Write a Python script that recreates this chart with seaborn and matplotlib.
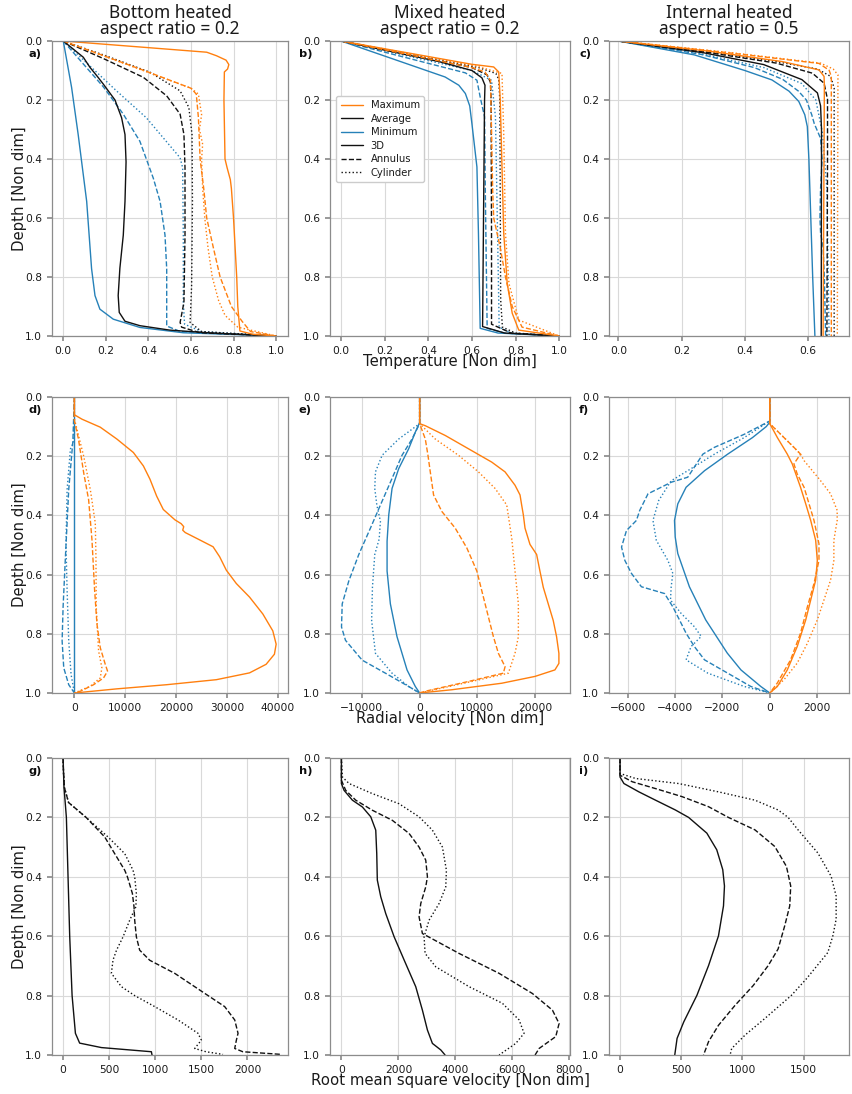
import matplotlib
matplotlib.use("Agg")
import matplotlib.pyplot as plt
from matplotlib.lines import Line2D
import seaborn as sns

# ---------------------------------------------------------------- colours
ORANGE = "#ff7f0e"
BLUE = "#2681b8"
BLACK = "#111111"

# ================================================================ panel a
# Temperature, bottom heated (x = temperature, d = depth)
a_max_3d_d = [0, .038, .05, .065, .08, .095, .105, .2, .4, .43, .47, .5, .6, .8, .9, .983, .994, 1.0]
a_max_3d_x = [0, .674, .72, .765, .778, .772, .757, .755, .76, .77, .785, .79, .80, .815, .82, .83, .89, 1.0]
a_max_ann_d = [0, .05, .10, .16, .18, .26, .4, .5, .6, .7, .8, .9, .95, .985, 1.0]
a_max_ann_x = [0, .19, .38, .60, .625, .635, .643, .66, .674, .705, .737, .79, .84, .88, 1.0]
a_max_cyl_d = [0, .16, .18, .25, .30, .35, .4, .5, .6, .7, .8, .88, .93, .97, 1.0]
a_max_cyl_x = [0, .60, .635, .65, .64, .655, .65, .655, .665, .68, .70, .73, .76, .82, 1.0]
a_avg_3d_d = [0, .055, .089, .12, .146, .2, .26, .317, .41, .544, .658, .77, .863, .92, .95, .965, .98, .99, 1.0]
a_avg_3d_x = [0, .094, .125, .16, .188, .243, .274, .29, .295, .29, .282, .266, .258, .263, .29, .36, .5, .7, 1.0]
a_avg_ann_d = [0, .06, .123, .186, .248, .317, .43, .658, .886, .954, .97, .989, 1.0]
a_avg_ann_x = [0, .19, .376, .486, .549, .567, .572, .572, .567, .549, .556, .643, 1.0]
a_avg_cyl_d = [0, .05, .106, .169, .225, .317, .544, .83, .954, .985, 1.0]
a_avg_cyl_x = [0, .2, .408, .549, .59, .605, .607, .603, .596, .65, 1.0]
a_min_3d_d = [0, .157, .317, .544, .772, .863, .909, .943, .971, .989, 1.0]
a_min_3d_x = [0, .039, .07, .11, .133, .149, .172, .235, .36, .564, 1.0]
a_min_ann_d = [0, .157, .248, .34, .465, .544, .658, .772, .966, .985, 1.0]
a_min_ann_x = [0, .19, .282, .36, .423, .455, .478, .486, .486, .55, 1.0]
a_min_cyl_d = [0, .169, .26, .396, .43, .658, .886, .96, .985, 1.0]
a_min_cyl_x = [0, .25, .39, .549, .561, .564, .564, .57, .65, 1.0]

# ================================================================ panel b
# Temperature, mixed heated
b_max_3d_d = [0, .079, .088, .105, .2, .427, .652, .822, .923, .98, 1.0]
b_max_3d_x = [0, .60, .70, .723, .73, .738, .746, .762, .785, .815, 1.0]
b_max_ann_d = [0, .09, .105, .133, .3, .5, .6, .7, .8, .9, .97, 1.0]
b_max_ann_x = [0, .6, .66, .685, .69, .695, .70, .73, .754, .785, .83, 1.0]
b_max_cyl_d = [0, .085, .11, .314, .652, .822, .946, 1.0]
b_max_cyl_x = [0, .62, .738, .746, .754, .77, .815, 1.0]
b_avg_3d_d = [0, .07, .1, .125, .15, .2, .54, .968, .99, 1.0]
b_avg_3d_x = [0, .45, .6, .646, .66, .658, .654, .649, .75, 1.0]
b_avg_ann_d = [0, .09, .115, .14, .2, .65, .96, .99, 1.0]
b_avg_ann_x = [0, .6, .67, .685, .688, .69, .69, .78, 1.0]
b_avg_cyl_d = [0, .09, .11, .13, .2, .878, .97, .99, 1.0]
b_avg_cyl_x = [0, .63, .71, .723, .728, .732, .74, .8, 1.0]
b_min_3d_d = [0, .122, .15, .178, .22, .28, .427, .652, .974, .99, 1.0]
b_min_3d_x = [0, .477, .54, .57, .59, .60, .623, .63, .638, .72, 1.0]
b_min_ann_d = [0, .108, .133, .19, .257, .54, .974, .99, 1.0]
b_min_ann_x = [0, .57, .623, .638, .658, .662, .67, .75, 1.0]
b_min_cyl_d = [0, .1, .133, .257, .54, .878, .97, .99, 1.0]
b_min_cyl_x = [0, .60, .69, .708, .715, .723, .725, .78, 1.0]

# ================================================================ panel c
# Temperature, internally heated
c_max_3d_d = [0, .035, .07, .098, .12, .15, 1.0]
c_max_3d_x = [0, .29, .52, .635, .651, .652, .648]
c_max_ann_d = [0, .04, .076, .099, .12, 1.0]
c_max_ann_x = [0, .35, .635, .667, .674, .674]
c_max_cyl_d = [0, .04, .075, .095, .115, 1.0]
c_max_cyl_x = [0, .36, .64, .68, .695, .693]
c_avg_3d_d = [0, .04, .08, .131, .176, .22, .3, 1.0]
c_avg_3d_x = [0, .27, .46, .581, .63, .64, .643, .642]
c_avg_ann_d = [0, .04, .075, .109, .143, .198, .4, 1.0]
c_avg_ann_x = [0, .29, .50, .614, .651, .662, .662, .66]
c_avg_cyl_d = [0, .04, .07, .095, .12, .16, 1.0]
c_avg_cyl_x = [0, .3, .5, .63, .672, .683, .683]
c_min_3d_d = [0, .047, .1, .132, .17, .205, .25, .29, .4, .6, .8, 1.0]
c_min_3d_x = [0, .24, .40, .486, .54, .571, .59, .598, .603, .609, .615, .622]
c_min_ann_d = [0, .045, .09, .13, .17, .2, .25, .28, .33, .4, .5, .6, .65, .7, .8, 1.0]
c_min_ann_x = [0, .26, .43, .52, .57, .595, .612, .62, .64, .645, .64, .638, .64, .648, .652, .656]
c_min_cyl_d = [0, .045, .09, .144, .2, .312, .5, 1.0]
c_min_cyl_x = [0, .27, .46, .58, .625, .646, .66, .667]

# ================================================================ panel d
# Radial velocity, bottom heated
d_max_3d_d = [0, .06, .075, .102, .142, .1875, .233, .278, .335, .38, .415, .428, .438, .45, .458,
              .483, .506, .54, .585, .63, .676, .733, .79, .835, .869, .903, .932, .955, .972, .986, 1.0]
d_max_3d_x = [0, 0, 1500, 5090, 8350, 11600, 13570, 14870, 16180, 17480, 19770, 21000, 21500, 21300, 21800,
              24660, 27270, 28570, 29870, 31830, 34440, 37050, 39010, 39670, 39330, 37700, 34440, 27920, 18130, 8350, 0]
d_max_ann_d = [0, .08, .142, .256, .347, .483, .653, .767, .847, .903, .926, .949, .972, .994, 1.0]
d_max_ann_x = [0, 0, 800, 1830, 2800, 3460, 3980, 4440, 5090, 6070, 6520, 5740, 3780, 1170, 0]
d_max_cyl_d = [0, .074, .2, .3125, .426, .54, .71, .858, .915, .949, .977, 1.0]
d_max_cyl_x = [0, 0, 1830, 3130, 4110, 4240, 4300, 4760, 5410, 5090, 3130, 0]
d_min_3d_d = [0, 1.0]
d_min_3d_x = [0, 0]
d_min_ann_d = [0, .15, .3125, .54, .71, .824, .915, .972, 1.0]
d_min_ann_x = [0, -300, -1110, -1760, -2220, -2410, -2090, -1110, 0]
d_min_cyl_d = [0, .15, .176, .3125, .5, .653, .824, .9375, 1.0]
d_min_cyl_x = [0, -100, -780, -1430, -1650, -1430, -1110, -650, 0]

# ================================================================ panel e
# Radial velocity, mixed heated
e_max_3d_d = [0, .09, .097, .13, .175, .22, .253, .298, .331, .365, .398, .443, .498, .532, .588, .643,
              .699, .755, .81, .866, .9, .922, .944, .967, .989, 1.0]
e_max_3d_x = [0, 0, 980, 4430, 8450, 12470, 14770, 16490, 17360, 17640, 17930, 18220, 19080, 20230, 20800,
              21380, 22240, 23100, 23680, 24080, 24080, 23390, 19940, 14200, 5570, 0]
e_max_ann_d = [0, .09, .142, .197, .253, .331, .387, .443, .51, .588, .699, .81, .866, .911, .933, .961, .994, 1.0]
e_max_ann_x = [0, 0, 980, 1440, 1840, 2410, 3850, 6150, 8160, 9890, 11320, 12760, 13620, 14770, 14480, 8450, 980, 0]
e_max_cyl_d = [0, .09, .142, .197, .253, .309, .365, .476, .588, .699, .81, .866, .933, .961, 1.0]
e_max_cyl_x = [0, 0, 2700, 6720, 10170, 13050, 15060, 15920, 16490, 17070, 17070, 16490, 15340, 9020, 0]
e_min_3d_d = [0, .086, .119, .175, .242, .309, .398, .487, .588, .699, .81, .922, .978, 1.0]
e_min_3d_x = [0, 0, -750, -1900, -3620, -4770, -5340, -5630, -5630, -5060, -3910, -2180, -750, 0]
e_min_ann_d = [0, .09, .142, .197, .275, .365, .443, .532, .621, .699, .777, .822, .889, .933, .978, 1.0]
e_min_ann_x = [0, 0, -1320, -3050, -4770, -6780, -8510, -10520, -12240, -13390, -13510, -12820, -9940,
               -5920, -1900, 0]
e_min_cyl_d = [0, .09, .142, .197, .253, .309, .365, .42, .48, .532, .643, .755, .866, .933, .978, 1.0]
e_min_cyl_x = [0, 0, -3620, -6490, -7640, -7760, -7400, -6780, -7000, -7760, -8160, -8300, -7640, -4770, -1900, 0]

# ================================================================ panel f
# Radial velocity, internally heated
f_max_3d_d = [0, .09, .137, .193, .226, .305, .361, .417, .484, .552, .619, .686, .753, .843, .922, .978, 1.0]
f_max_3d_x = [0, 0, 320, 740, 950, 1300, 1520, 1730, 1940, 2010, 1940, 1730, 1520, 1160, 740, 320, 0]
f_max_ann_d = [0, .09, .126, .17, .193, .226, .26, .305, .361, .417, .496, .552, .63, .709, .798, .888, .966, 1.0]
f_max_ann_x = [0, 0, 460, 1020, 1300, 1020, 1160, 1450, 1660, 1870, 2080, 2080, 1870, 1590, 1300, 880, 320, 0]
f_max_cyl_d = [0, .09, .126, .159, .193, .215, .283, .327, .383, .417, .484, .552, .619, .686, .753, .832,
               .899, .955, 1.0]
f_max_cyl_x = [0, 0, 460, 880, 1300, 1450, 2150, 2570, 2850, 2850, 2710, 2710, 2570, 2290, 2010, 1590,
               1160, 600, 0]
f_min_3d_d = [0, .085, .1, .137, .193, .249, .305, .361, .417, .473, .529, .641, .753, .865, .922, .978, 1.0]
f_min_3d_x = [0, 0, -150, -730, -1780, -2760, -3540, -3890, -4030, -4000, -3890, -3400, -2710, -1800,
              -1220, -380, 0]
f_min_ann_d = [0, .081, .126, .17, .193, .271, .288, .327, .383, .417, .451, .507, .552, .596, .641, .664,
               .709, .753, .798, .843, .888, .933, .978, 1.0]
f_min_ann_x = [0, 0, -1080, -2340, -2830, -3470, -4170, -5150, -5500, -5640, -6060, -6270, -6130, -5850,
               -5430, -4450, -4100, -3820, -3540, -3190, -2760, -1780, -800, 0]
f_min_cyl_d = [0, .081, .137, .193, .249, .283, .35, .417, .484, .552, .596, .641, .686, .731, .776, .809,
               .843, .888, .933, .978, 1.0]
f_min_cyl_x = [0, 0, -1080, -2340, -3470, -4170, -4700, -4940, -4800, -4310, -4100, -4170, -4200, -3750,
               -3190, -2900, -3330, -3540, -2620, -1080, 0]

# ================================================================ panel g
# RMS velocity, bottom heated
g_3d_d = [0, .098, .2, .4, .6, .8, .927, .96, .975, .989, 1.0]
g_3d_x = [0, 10, 36, 54, 72, 98, 134, 180, 416, 958, 965]
g_ann_d = [0, .05, .1, .15, .2, .266, .322, .378, .4, .456, .502, .546, .602, .647, .681, .725, .77, .8,
           .837, .882, .927, .95, .978, .989, .998]
g_ann_x = [0, 5, 15, 60, 250, 452, 560, 669, 698, 752, 770, 777, 795, 831, 940, 1211, 1428, 1573,
           1753, 1862, 1898, 1880, 1862, 1950, 2368]
g_cyl_d = [0, .05, .1, .15, .2, .266, .322, .378, .4, .456, .501, .546, .602, .647, .68, .725, .77, .8,
           .837, .882, .927, .95, .978, .989, .998]
g_cyl_x = [0, 5, 15, 60, 250, 488, 669, 759, 777, 795, 790, 723, 651, 580, 542, 524, 633, 777,
           994, 1247, 1464, 1500, 1428, 1550, 1735]

# ================================================================ panel h
# RMS velocity, mixed heated
h_3d_d = [0, .086, .109, .142, .165, .198, .243, .322, .411, .467, .524, .602, .68, .77, .849, .916, .961, .983, 1.0]
h_3d_x = [0, 0, 94, 386, 737, 1030, 1205, 1240, 1260, 1380, 1556, 1850, 2200, 2608, 2842, 3018, 3193, 3487, 3637]
h_ann_d = [0, .075, .109, .142, .176, .21, .254, .3, .344, .4, .434, .49, .535, .591, .658, .725, .793,
           .849, .894, .938, .978, 1.0]
h_ann_x = [0, 0, 152, 503, 1088, 1789, 2374, 2725, 2959, 3018, 2959, 2784, 2725, 2842, 4129, 5532, 6702,
           7404, 7637, 7520, 6936, 6795]
h_cyl_d = [0, .064, .086, .12, .154, .198, .243, .3, .378, .434, .49, .546, .602, .658, .703, .77, .826,
           .882, .927, .961, 1.0]
h_cyl_x = [0, 35, 269, 1088, 2023, 2725, 3193, 3544, 3684, 3661, 3427, 3076, 2901, 2936, 3310, 4480, 5649,
           6234, 6409, 6117, 5532]

# ================================================================ panel i
# RMS velocity, internally heated
i_3d_d = [0, .064, .086, .114, .142, .175, .2, .253, .309, .376, .431, .498, .599, .699, .799, .889, .944, 1.0]
i_3d_x = [0, 0, 32, 154, 290, 452, 560, 709, 790, 839, 853, 845, 804, 723, 628, 520, 466, 447]
i_ann_d = [0, .058, .08, .103, .13, .164, .2, .242, .298, .365, .431, .498, .565, .643, .699, .766, .833,
           .9, .955, 1.0]
i_ann_x = [0, 0, 100, 290, 506, 723, 885, 1102, 1264, 1359, 1394, 1386, 1345, 1291, 1210, 1088, 939,
           804, 723, 682]
i_cyl_d = [0, .052, .069, .086, .114, .142, .175, .2, .242, .32, .398, .465, .543, .599, .655, .744, .799,
           .877, .933, .978, 1.0]
i_cyl_x = [0, 0, 127, 479, 804, 1102, 1291, 1373, 1454, 1616, 1724, 1765, 1765, 1738, 1697, 1521, 1400,
           1183, 1021, 912, 899]

# ---------------------------------------------------------------- text
col_titles = ["Bottom heated\naspect ratio = 0.2",
              "Mixed heated\naspect ratio = 0.2",
              "Internal heated\naspect ratio = 0.5"]
row_xlabels = ["Temperature [Non dim]", "Radial velocity [Non dim]",
               "Root mean square velocity [Non dim]"]
depth_label = "Depth [Non dim]"
panel_tags = ["a)", "b)", "c)", "d)", "e)", "f)", "g)", "h)", "i)"]
legend_labels = ["Maximum", "Average", "Minimum", "3D", "Annulus", "Cylinder"]

x_ticks = [
    [0, .2, .4, .6, .8, 1.0], [0, .2, .4, .6, .8, 1.0], [0, .2, .4, .6],
    [0, 10000, 20000, 30000, 40000], [-10000, 0, 10000, 20000], [-6000, -4000, -2000, 0, 2000],
    [0, 500, 1000, 1500, 2000], [0, 2000, 4000, 6000, 8000], [0, 500, 1000, 1500],
]
x_limits = [
    (-0.053, 1.056), (-0.051, 1.05), (-0.03, 0.73),
    (-4400, 42000), (-15500, 26000), (-6800, 3350),
    (-120, 2440), (-400, 8020), (-90, 1870),
]
depth_ticks = [0, .2, .4, .6, .8, 1.0]

# ---------------------------------------------------------------- style
sns.set_theme(style="whitegrid", rc={
    "axes.edgecolor": "0.55",
    "axes.linewidth": 0.9,
    "grid.color": "0.85",
    "grid.linewidth": 0.8,
    "xtick.bottom": True,
    "ytick.left": True,
    "xtick.color": "0.55",
    "ytick.color": "0.55",
    "xtick.labelcolor": "0.1",
    "ytick.labelcolor": "0.1",
    "xtick.major.size": 3.5,
    "ytick.major.size": 3.5,
    "xtick.labelsize": 7.7,
    "ytick.labelsize": 7.7,
})
plt.rcParams["font.family"] = ["DejaVu Sans"]

W, H = 852, 1094
fig = plt.figure(figsize=(W / 100, H / 100), dpi=100)

col_left = [52, 330, 609]
col_width = [236, 240, 240]
row_top = [41, 397, 758]
row_height = [295, 296, 297]
tag_x = [-0.10, -0.13, -0.125]

axes = []
for r in range(3):
    for c in range(3):
        l, w = col_left[c], col_width[c]
        t, h = row_top[r], row_height[r]
        axes.append(fig.add_axes([l / W, 1 - (t + h) / H, w / W, h / H]))


def draw(ax, x, d, color, ls):
    sns.lineplot(x=x, y=d, ax=ax, color=color, linestyle=ls, linewidth=1.0,
                 sort=False, estimator=None, legend=False)


# temperature rows: minimum, average, maximum for each geometry
temp_sets = [
    {"min": [(a_min_3d_x, a_min_3d_d), (a_min_ann_x, a_min_ann_d), (a_min_cyl_x, a_min_cyl_d)],
     "avg": [(a_avg_3d_x, a_avg_3d_d), (a_avg_ann_x, a_avg_ann_d), (a_avg_cyl_x, a_avg_cyl_d)],
     "max": [(a_max_3d_x, a_max_3d_d), (a_max_ann_x, a_max_ann_d), (a_max_cyl_x, a_max_cyl_d)]},
    {"min": [(b_min_3d_x, b_min_3d_d), (b_min_ann_x, b_min_ann_d), (b_min_cyl_x, b_min_cyl_d)],
     "avg": [(b_avg_3d_x, b_avg_3d_d), (b_avg_ann_x, b_avg_ann_d), (b_avg_cyl_x, b_avg_cyl_d)],
     "max": [(b_max_3d_x, b_max_3d_d), (b_max_ann_x, b_max_ann_d), (b_max_cyl_x, b_max_cyl_d)]},
    {"min": [(c_min_3d_x, c_min_3d_d), (c_min_ann_x, c_min_ann_d), (c_min_cyl_x, c_min_cyl_d)],
     "avg": [(c_avg_3d_x, c_avg_3d_d), (c_avg_ann_x, c_avg_ann_d), (c_avg_cyl_x, c_avg_cyl_d)],
     "max": [(c_max_3d_x, c_max_3d_d), (c_max_ann_x, c_max_ann_d), (c_max_cyl_x, c_max_cyl_d)]},
]
stat_color = {"min": BLUE, "avg": BLACK, "max": ORANGE}
geom_ls = ["-", "--", ":"]

for k, sets in enumerate(temp_sets):
    ax = axes[k]
    for stat in ["min", "avg", "max"]:
        for g, (xv, dv) in enumerate(sets[stat]):
            draw(ax, xv, dv, stat_color[stat], geom_ls[g])

vel_sets = [
    {"min": [(d_min_3d_x, d_min_3d_d), (d_min_ann_x, d_min_ann_d), (d_min_cyl_x, d_min_cyl_d)],
     "max": [(d_max_3d_x, d_max_3d_d), (d_max_ann_x, d_max_ann_d), (d_max_cyl_x, d_max_cyl_d)]},
    {"min": [(e_min_3d_x, e_min_3d_d), (e_min_ann_x, e_min_ann_d), (e_min_cyl_x, e_min_cyl_d)],
     "max": [(e_max_3d_x, e_max_3d_d), (e_max_ann_x, e_max_ann_d), (e_max_cyl_x, e_max_cyl_d)]},
    {"min": [(f_min_3d_x, f_min_3d_d), (f_min_ann_x, f_min_ann_d), (f_min_cyl_x, f_min_cyl_d)],
     "max": [(f_max_3d_x, f_max_3d_d), (f_max_ann_x, f_max_ann_d), (f_max_cyl_x, f_max_cyl_d)]},
]
for k, sets in enumerate(vel_sets):
    ax = axes[3 + k]
    for stat in ["min", "max"]:
        for g, (xv, dv) in enumerate(sets[stat]):
            draw(ax, xv, dv, stat_color[stat], geom_ls[g])

rms_sets = [
    [(g_3d_x, g_3d_d), (g_ann_x, g_ann_d), (g_cyl_x, g_cyl_d)],
    [(h_3d_x, h_3d_d), (h_ann_x, h_ann_d), (h_cyl_x, h_cyl_d)],
    [(i_3d_x, i_3d_d), (i_ann_x, i_ann_d), (i_cyl_x, i_cyl_d)],
]
for k, sets in enumerate(rms_sets):
    ax = axes[6 + k]
    for g, (xv, dv) in enumerate(sets):
        draw(ax, xv, dv, BLACK, geom_ls[g])

# ---------------------------------------------------------------- axes dressing
for n, ax in enumerate(axes):
    r, c = divmod(n, 3)
    ax.set_xlim(*x_limits[n])
    ax.set_xticks(x_ticks[n])
    ax.set_ylim(1.0, 0.0)
    ax.set_yticks(depth_ticks)
    ax.set_yticklabels([f"{v:.1f}" for v in depth_ticks])
    ax.set_xlabel("")
    ax.set_ylabel("")
    ax.grid(True)
    for s in ax.spines.values():
        s.set_visible(True)
        s.set_color("0.55")
    ax.text(tag_x[c], 0.955, panel_tags[n], transform=ax.transAxes,
            fontsize=8.2, fontweight="bold", ha="left", va="center", color="0.05")
    if c == 0:
        ax.set_ylabel(depth_label, fontsize=10.7, color="0.1", labelpad=-1)
    if c == 1:
        ax.set_xlabel(row_xlabels[r], fontsize=10.7, color="0.1", labelpad=-1.5)
    if r == 0:
        ax.set_title(col_titles[c], fontsize=12.5, family=["Noto Sans", "DejaVu Sans"],
                     linespacing=0.85, pad=5, color="0.1")

# legend of colours and line styles
handles = [
    Line2D([], [], color=ORANGE, lw=1.0, ls="-"),
    Line2D([], [], color=BLACK, lw=1.0, ls="-"),
    Line2D([], [], color=BLUE, lw=1.0, ls="-"),
    Line2D([], [], color=BLACK, lw=1.0, ls="-"),
    Line2D([], [], color=BLACK, lw=1.0, ls="--"),
    Line2D([], [], color=BLACK, lw=1.0, ls=":"),
]
leg = axes[1].legend(handles, legend_labels, loc="upper left", bbox_to_anchor=(0.025, 0.815),
                     borderaxespad=0, fontsize=7.2, frameon=True, framealpha=1.0,
                     edgecolor="0.8", handlelength=2.2, labelspacing=0.35, borderpad=0.45)
for t in leg.get_texts():
    t.set_color("0.1")

fig.savefig("out.png", dpi=100)
